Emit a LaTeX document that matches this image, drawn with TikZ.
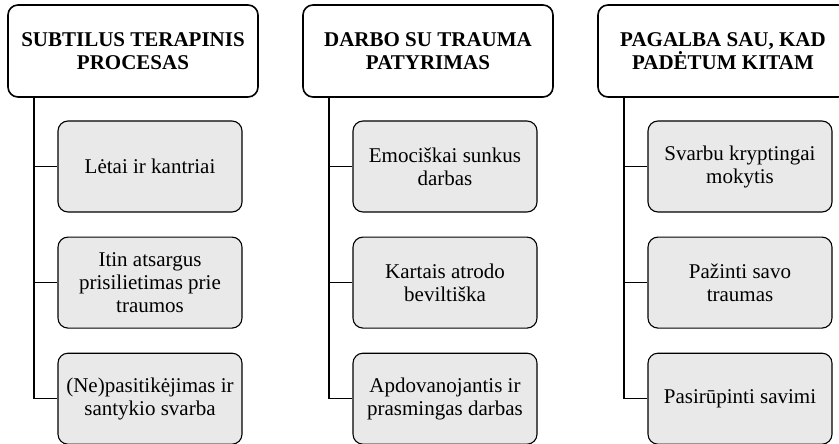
\documentclass[tikz,border=0pt]{standalone}
\usepackage{fontspec}
\setmainfont{Liberation Serif}
\usetikzlibrary{positioning}

\begin{document}
\begin{tikzpicture}[x=1pt,y=-1pt,
  head/.style={draw,line width=1.6pt,rounded corners=10pt,fill=white,
    minimum width=250pt,minimum height=92pt,align=center,
    font=\fontsize{21}{23}\selectfont\bfseries},
  item/.style={draw,line width=1.1pt,rounded corners=10pt,fill=gray!17,
    minimum width=184pt,minimum height=91pt,align=center,
    font=\fontsize{21}{23}\selectfont},
  link/.style={line width=1.4pt}]
 \useasboundingbox (0,0) rectangle (839,444);
 % headers
 \node[head] (h1) at (133,51) {SUBTILUS TERAPINIS\\PROCESAS};
 \node[head] (h2) at (428,51) {DARBO SU TRAUMA\\PATYRIMAS};
 \node[head] (h3) at (723,51) {PAGALBA SAU, KAD\\PADĖTUM KITAM};
 % first column
 \node[item] (a1) at (150,166.5) {Lėtai ir kantriai};
 \node[item,below=24pt of a1] (a2) {Itin atsargus\\prisilietimas prie\\traumos};
 \node[item,below=24pt of a2] (a3) {(Ne)pasitikėjimas ir\\santykio svarba};
 % second column
 \node[item] (b1) at (445,166.5) {Emociškai sunkus\\darbas};
 \node[item,below=24pt of b1] (b2) {Kartais atrodo\\beviltiška};
 \node[item,below=24pt of b2] (b3) {Apdovanojantis ir\\prasmingas darbas};
 % third column
 \node[item] (c1) at (740,166.5) {Svarbu kryptingai\\mokytis};
 \node[item,below=24pt of c1] (c2) {Pažinti savo\\traumas};
 \node[item,below=24pt of c2] (c3) {Pasirūpinti savimi};
 % tree lines
 \coordinate (t1) at (34,97);
 \coordinate (t2) at (329,97);
 \coordinate (t3) at (624,97);
 \draw[link] (t1) |- (a3.west);
 \draw[link] (t1 |- a1.west) -- (a1.west);
 \draw[link] (t1 |- a2.west) -- (a2.west);
 \draw[link] (t2) |- (b3.west);
 \draw[link] (t2 |- b1.west) -- (b1.west);
 \draw[link] (t2 |- b2.west) -- (b2.west);
 \draw[link] (t3) |- (c3.west);
 \draw[link] (t3 |- c1.west) -- (c1.west);
 \draw[link] (t3 |- c2.west) -- (c2.west);
\end{tikzpicture}
\end{document}
